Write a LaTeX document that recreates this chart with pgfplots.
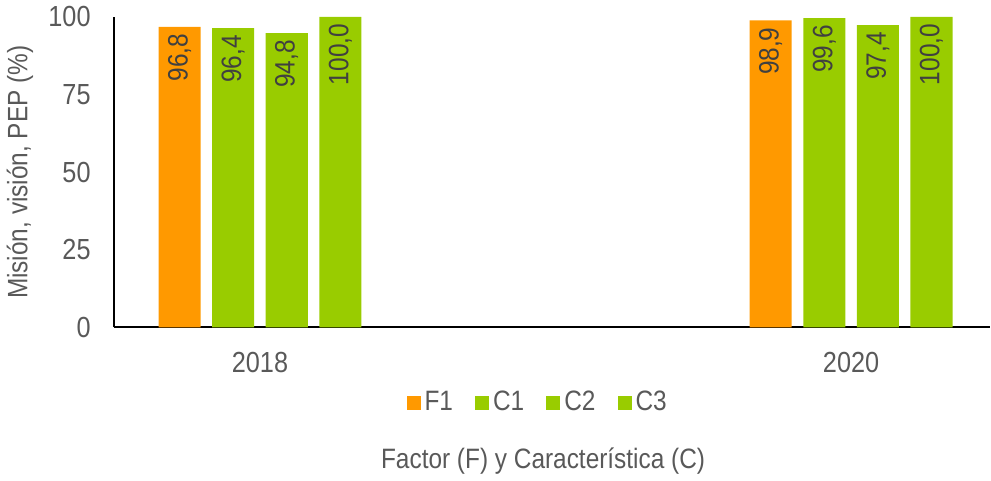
\documentclass[border=0pt]{standalone}
\usepackage{fontspec}
\setmainfont{Liberation Sans}[FakeStretch=0.87]
\usepackage{pgfplots}
\pgfplotsset{compat=1.18}
\definecolor{orng}{HTML}{FF9900}
\definecolor{grn}{HTML}{99CC00}
\definecolor{txt}{HTML}{595959}
\definecolor{lbl}{HTML}{404040}
\begin{document}
\begin{tikzpicture}
\begin{axis}[
 scale only axis, width=437.5pt, height=155pt,
 xmin=-0.2475, xmax=1.235, ymin=0, ymax=100,
 ytick={0,25,50,75,100},
 xtick={0,1}, xticklabels={2018,2020},
 axis x line=bottom, axis y line=left,
 axis line style={-, black, line width=1pt},
 major tick length=0pt,
 ybar, bar width=0.0712,
 /pgf/number format/assume math mode=true,
 tick label style={font=\fontsize{14.5}{16}\selectfont, text=txt},
 yticklabel style={xshift=-8pt},
 xticklabel style={yshift=-9pt},
 ylabel={Misión, visión, PEP (\%)},
 ylabel style={at={(axis description cs:-0.107,0.5)}, anchor=center, font=\fontsize{14}{16}\selectfont, text=txt},
 xlabel={Factor (F) y Característica (C)},
 xlabel style={at={(axis description cs:0.49,-0.43)}, anchor=center, font=\fontsize{14}{16}\selectfont, text=txt},
 nodes near coords,
 nodes near coords style={/pgf/number format/fixed, /pgf/number format/fixed zerofill, /pgf/number format/precision=1, /pgf/number format/use comma, rotate=90, anchor=east, font=\fontsize{14}{16}\selectfont, text=lbl},
 legend style={at={(0.485,-0.242)}, anchor=center, draw=none, fill=none, legend columns=-1,
   font=\fontsize{14}{16}\selectfont, text=txt,
   /tikz/every even column/.append style={column sep=9pt}},
 legend image code/.code={\fill[#1] (0pt,-3.5pt) rectangle (7pt,3.5pt);},
]
\addplot[fill=orng, draw=none, bar shift=-0.136] coordinates {(0,96.8) (1,98.9)};
\addplot[fill=grn, draw=none, bar shift=-0.0453] coordinates {(0,96.4) (1,99.6)};
\addplot[fill=grn, draw=none, bar shift=0.0453] coordinates {(0,94.8) (1,97.4)};
\addplot[fill=grn, draw=none, bar shift=0.136] coordinates {(0,100.0) (1,100.0)};
\legend{F1,C1,C2,C3}
\end{axis}
\end{tikzpicture}
\end{document}
